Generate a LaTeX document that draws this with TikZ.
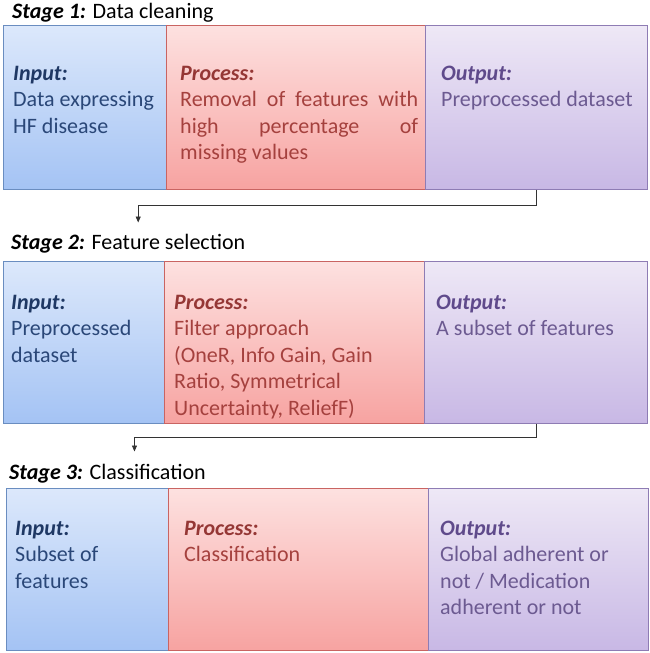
\documentclass[tikz,border=0pt]{standalone}
\usepackage{fontspec}
\setmainfont{Carlito}
\usetikzlibrary{arrows.meta,positioning}

\definecolor{intop}{HTML}{DCE8FB}
\definecolor{inbot}{HTML}{A4C3F4}
\definecolor{inborder}{HTML}{6A8DC0}
\definecolor{prtop}{HTML}{FDE1E0}
\definecolor{prbot}{HTML}{F7A3A1}
\definecolor{prborder}{HTML}{C96462}
\definecolor{outtop}{HTML}{EEE8F6}
\definecolor{outbot}{HTML}{C8B8E5}
\definecolor{outborder}{HTML}{8E7CB4}
\definecolor{inlab}{HTML}{1F3864}
\definecolor{intext}{HTML}{2A4778}
\definecolor{prlab}{HTML}{953735}
\definecolor{prtext}{HTML}{A5413E}
\definecolor{outlab}{HTML}{5F4A8B}
\definecolor{outtext}{HTML}{6C5A91}
\definecolor{arrowgray}{HTML}{333333}

\newcommand{\lab}[1]{\textbf{\textit{#1}}}
\newcommand{\celllab}[2]{\strut\textcolor{#1}{\lab{#2}}}

\tikzset{
  cell/.style={draw, line width=0.8pt, anchor=north west, inner sep=0pt},
  incell/.style={cell, draw=inborder, top color=intop, bottom color=inbot},
  prcell/.style={cell, draw=prborder, top color=prtop, bottom color=prbot},
  outcell/.style={cell, draw=outborder, top color=outtop, bottom color=outbot},
  txt/.style={anchor=north west, inner sep=0pt, align=left,
    font=\fontsize{22}{26.5}\selectfont},
  title/.style={anchor=base west, inner sep=0pt, font=\fontsize{22}{26}\selectfont},
  flow/.style={draw=arrowgray, line width=0.8pt, -{Triangle[length=6pt,width=5pt]}},
}

\begin{document}
\begin{tikzpicture}[x=1pt,y=-1pt]
  \useasboundingbox (0,0) rectangle (650,653);
  %stage 1
  \node[title] (title1) at (12,18) {\lab{Stage 1:} Data cleaning};
  \node[incell, minimum width=163pt, minimum height=164pt] (in1) at (3,25) {};
  \node[prcell, minimum width=259pt, minimum height=164pt] (pr1) at (166,25) {};
  \node[outcell, minimum width=222pt, minimum height=164pt] (out1) at (425,25) {};
  \node[txt, text=intext] (in1t) at (13,61.5) {\celllab{inlab}{Input:}\\Data expressing\\HF disease};
  \node[txt, text=prtext] (pr1t) at (180,61.5) {\celllab{prlab}{Process:}\\
    \makebox[238pt][s]{Removal of features with}\\
    \makebox[238pt][s]{high percentage of}\\missing values};
  \node[txt, text=outtext] (out1t) at (441,61.5) {\celllab{outlab}{Output:}\\Preprocessed dataset};
  %stage 2
  \node[title] (title2) at (11,249) {\lab{Stage 2:} Feature selection};
  \node[incell, minimum width=161pt, minimum height=162pt] (in2) at (3,261) {};
  \node[prcell, minimum width=260pt, minimum height=162pt] (pr2) at (164,261) {};
  \node[outcell, minimum width=223pt, minimum height=162pt] (out2) at (424,261) {};
  \node[txt, text=intext] (in2t) at (11,290.5) {\celllab{inlab}{Input:}\\Preprocessed\\dataset};
  \node[txt, text=prtext] (pr2t) at (174,290.5) {\celllab{prlab}{Process:}\\Filter approach\\(OneR, Info Gain, Gain\\Ratio, Symmetrical\\Uncertainty, ReliefF)};
  \node[txt, text=outtext] (out2t) at (436,290.5) {\celllab{outlab}{Output:}\\A subset of features};
  %stage 3
  \node[title] (title3) at (9,479) {\lab{Stage 3:} Classification};
  \node[incell, minimum width=162pt, minimum height=162pt] (in3) at (6,488) {};
  \node[prcell, minimum width=260pt, minimum height=162pt] (pr3) at (168,488) {};
  \node[outcell, minimum width=220pt, minimum height=162pt] (out3) at (428,488) {};
  \node[txt, text=intext] (in3t) at (15,516.5) {\celllab{inlab}{Input:}\\Subset of\\features};
  \node[txt, text=prtext] (pr3t) at (184,516.5) {\celllab{prlab}{Process:}\\Classification};
  \node[txt, text=outtext] (out3t) at (440,516.5) {\celllab{outlab}{Output:}\\Global adherent or\\not / Medication\\adherent or not};
  %arrows
  \draw[flow, shorten >=11pt] (out1.south) -- ++(0,16) -| ([xshift=10pt]title2.north);
  \draw[flow, shorten >=12pt] (out2.south) -- ++(0,14) -| ([xshift=27pt]title3.north);
\end{tikzpicture}
\end{document}
